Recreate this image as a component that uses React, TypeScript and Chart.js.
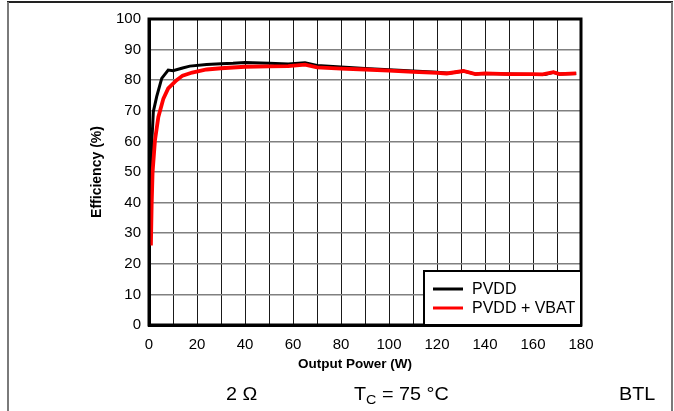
import React, { useEffect, useRef } from "react";
import { Chart, registerables } from "chart.js";

Chart.register(...registerables);

// ---- data ----
const pvddPower = [0.8, 1.1, 1.5, 1.8, 3.2, 5.3, 8, 10, 14, 17, 24, 30, 35, 40, 50, 58, 65, 70, 80, 90, 100, 110, 120, 125, 131, 136, 140, 150, 160, 165, 168.5, 171, 178];
const pvddEff = [48, 59.4, 64.8, 69.7, 74.6, 80.6, 83.3, 83.1, 84.0, 84.6, 85.1, 85.4, 85.5, 85.8, 85.5, 85.3, 85.7, 84.8, 84.3, 83.8, 83.4, 83.0, 82.6, 82.3, 83.0, 82.0, 82.2, 82.0, 81.9, 81.9, 82.6, 82.0, 82.2];

const vbatPower = [0.8, 1.1, 1.5, 2.5, 3.9, 6, 8, 11.5, 14, 18, 24, 30, 40, 50, 58, 65, 70, 80, 90, 100, 110, 120, 124, 131, 136, 140, 150, 160, 164, 168.5, 171, 178];
const vbatEff = [26, 39, 50, 60.5, 68, 74, 77.3, 80, 81.5, 82.5, 83.5, 83.9, 84.4, 84.5, 84.6, 85.1, 84.2, 83.8, 83.5, 83.1, 82.7, 82.4, 82.2, 83.0, 82.0, 82.2, 82.0, 82.0, 81.9, 82.6, 82.0, 82.2];

const seriesLabels = ["PVDD", "PVDD + VBAT"];
const seriesColors = ["#000000", "#ff0000"];
const xTitle = "Output Power (W)";
const yTitle = "Efficiency (%)";
const xMin = 0, xMax = 180, xStep = 10, xLabelStep = 20;
const yMin = 0, yMax = 100, yStep = 10;

const FONT = "'Liberation Sans', Arial, Helvetica, sans-serif";

const frameAndLegend = {
  id: "frameAndLegend",
  afterDatasetsDraw(chart: any) {
    const { ctx, chartArea } = chart;
    const { left, top, right, bottom } = chartArea;
    ctx.save();
    // plot border
    ctx.strokeStyle = "#000";
    ctx.lineWidth = 3;
    ctx.strokeRect(left, top, right - left, bottom - top);
    // legend box
    const w = 157, h = 54;
    const lx = right - w, ly = bottom - h;
    ctx.fillStyle = "#fff";
    ctx.fillRect(lx, ly, w, h);
    ctx.lineWidth = 2;
    ctx.strokeRect(lx, ly, w, h);
    ctx.font = `16px ${FONT}`;
    ctx.textBaseline = "middle";
    ctx.textAlign = "left";
    chart.data.datasets.forEach((ds: any, i: number) => {
      const yy = ly + 18 + i * 19;
      ctx.strokeStyle = ds.borderColor;
      ctx.lineWidth = 3;
      ctx.beginPath();
      ctx.moveTo(lx + 9, yy);
      ctx.lineTo(lx + 39, yy);
      ctx.stroke();
      ctx.fillStyle = "#000";
      ctx.fillText(ds.label, lx + 48, yy + 1);
    });
    ctx.restore();
  },
};

export default function App() {
  const ref = useRef<HTMLCanvasElement | null>(null);
  useEffect(() => {
    if (!ref.current) return;
    const chart = new Chart(ref.current, {
      type: "line",
      data: {
        datasets: [
          {
            label: seriesLabels[0],
            data: pvddPower.map((x, i) => ({ x, y: pvddEff[i] })),
            borderColor: seriesColors[0],
            backgroundColor: seriesColors[0],
            borderWidth: 3,
            pointRadius: 0,
            tension: 0,
            order: 1,
          },
          {
            label: seriesLabels[1],
            data: vbatPower.map((x, i) => ({ x, y: vbatEff[i] })),
            borderColor: seriesColors[1],
            backgroundColor: seriesColors[1],
            borderWidth: 3.8,
            pointRadius: 0,
            tension: 0,
            order: 0,
          },
        ],
      },
      options: {
        responsive: false,
        animation: false,
        layout: { padding: { top: 19, right: 93, bottom: 0, left: 0 } },
        plugins: { legend: { display: false }, tooltip: { enabled: false } },
        scales: {
          x: {
            type: "linear",
            min: xMin,
            max: xMax,
            ticks: {
              stepSize: xStep,
              autoSkip: false,
              maxRotation: 0,
              color: "#000",
              padding: 11,
              font: { family: FONT, size: 15 },
              callback: (v: any) => (Number(v) % xLabelStep === 0 ? String(v) : ""),
            },
            grid: { color: "#1a1a1a", lineWidth: 1, drawTicks: false },
            border: { color: "#000", width: 3 },
            title: { display: false, text: xTitle },
            afterFit: (s: any) => {
              s.height = 86;
            },
          },
          y: {
            type: "linear",
            min: yMin,
            max: yMax,
            ticks: {
              stepSize: yStep,
              color: "#000",
              padding: 8,
              font: { family: FONT, size: 15 },
            },
            grid: { color: "#808080", lineWidth: 1.5, drawTicks: false },
            border: { color: "#000", width: 3 },
            title: {
              display: true,
              text: yTitle,
              color: "#000",
              font: { family: FONT, size: 14, weight: "bold" },
              padding: { top: 89, bottom: 0 },
            },
            afterFit: (s: any) => {
              s.width = 149;
            },
          },
        },
      },
      plugins: [frameAndLegend],
    } as any);
    return () => chart.destroy();
  }, []);

  const textStyle: React.CSSProperties = {
    position: "absolute",
    top: 385,
    font: `18px ${FONT}`,
    lineHeight: "18px",
    color: "#000",
    whiteSpace: "nowrap",
    transform: "scaleX(1.1)",
    transformOrigin: "left center",
  };

  return (
    <div style={{ position: "absolute", left: 0, top: 0, width: 674, height: 411, background: "#fff", overflow: "hidden" }}>
      <canvas ref={ref} width={674} height={411} style={{ position: "absolute", left: 0, top: 0, width: 674, height: 411 }} />
      <div style={{ position: "absolute", left: 7, top: 1, width: 666, height: 2, background: "#222" }} />
      <div style={{ position: "absolute", left: 7, top: 2, width: 2, height: 409, background: "#7a7a7a" }} />
      <div style={{ position: "absolute", left: 671, top: 2, width: 2, height: 409, background: "#7a7a7a" }} />
      <div
        style={{
          position: "absolute",
          left: 355,
          top: 356,
          transform: "translateX(-50%)",
          font: `bold 13.5px ${FONT}`,
          lineHeight: "16px",
          color: "#000",
          whiteSpace: "nowrap",
        }}
      >
        {xTitle}
      </div>
      <div style={{ ...textStyle, left: 226 }}>2 Ω</div>
      <div style={{ ...textStyle, left: 354 }}>
        T<span style={{ fontSize: 13, position: "relative", top: 4 }}>C</span> = 75 °C
      </div>
      <div style={{ ...textStyle, left: 619 }}>BTL</div>
    </div>
  );
}
